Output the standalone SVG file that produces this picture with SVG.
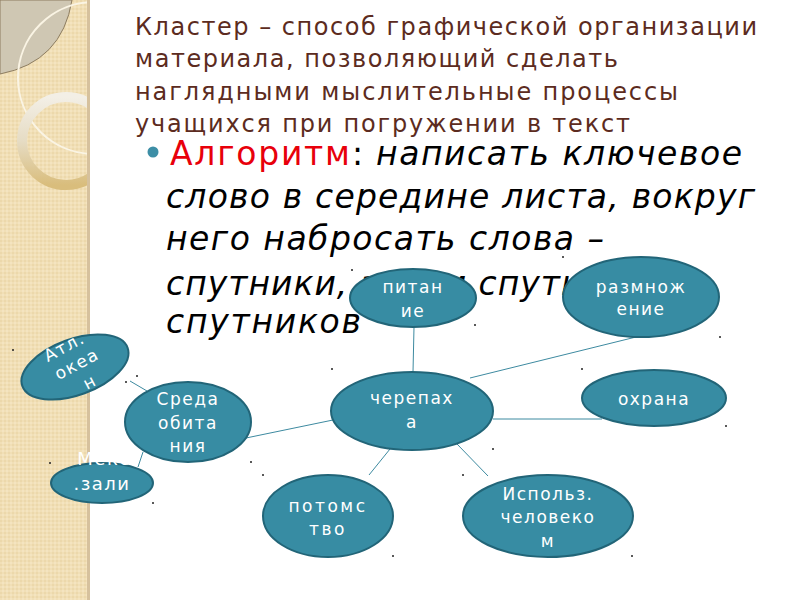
<svg xmlns="http://www.w3.org/2000/svg" width="800" height="600" viewBox="0 0 800 600">
<defs>
<style>
.title{font-family:"DejaVu Sans",sans-serif;font-size:24px;fill:#5c2b20}
.body{font-family:"DejaVu Sans",sans-serif;font-size:33px;fill:#000}
.it{font-style:italic}
.node ellipse{fill:#378ca3;stroke:#226578;stroke-width:2}
.node text{font-family:"DejaVu Sans",sans-serif;font-size:17px;fill:#fff;text-anchor:middle;letter-spacing:1.5px}
.conn line{stroke:#3d8aa0;stroke-width:1}
.dot{fill:#222}
</style>
<pattern id="tex" width="4" height="4" patternUnits="userSpaceOnUse">
<rect width="4" height="4" fill="#f1dfb6"/>
<rect width="2" height="2" fill="#ecd8ab"/>
<rect x="2" y="2" width="2" height="2" fill="#f4e4c0"/>
</pattern>
<linearGradient id="ring" x1="0" y1="0" x2="0" y2="1">
<stop offset="0" stop-color="#f3efe6"/>
<stop offset="0.5" stop-color="#e6dcc4"/>
<stop offset="1" stop-color="#d9bd7c"/>
</linearGradient>
<clipPath id="strip"><rect x="0" y="0" width="88" height="600"/></clipPath>
</defs>
<rect width="800" height="600" fill="#fff"/>
<g id="strip-deco">
<rect x="0" y="0" width="88" height="600" fill="url(#tex)"/>
<g clip-path="url(#strip)">
<path d="M0,0 L72,0 Q62,62 0,74 Z" fill="#cfc7b3" stroke="#8e7d60" stroke-width="1"/>
<circle cx="94" cy="78" r="76" fill="none" stroke="#faf4e4" stroke-width="2"/>
<circle cx="66" cy="141" r="44" fill="none" stroke="url(#ring)" stroke-width="10"/>
</g>
<rect x="87" y="0" width="3" height="600" fill="#d6c19d"/>
</g>
<g id="title">
<text class="title" x="135" y="35" textLength="622" lengthAdjust="spacing">Кластер – способ графической организации</text>
<text class="title" x="135" y="67" textLength="483" lengthAdjust="spacing">материала, позволяющий сделать</text>
<text class="title" x="135" y="100" textLength="543" lengthAdjust="spacing">наглядными  мыслительные процессы</text>
<text class="title" x="135" y="132" textLength="495" lengthAdjust="spacing">учащихся  при погружении в текст</text>
</g>
<g id="body">
<circle cx="153" cy="152" r="5.5" fill="#3d8ea6"/>
<text class="body" x="170" y="165" style="fill:#e8000b" textLength="180" lengthAdjust="spacing">Алгоритм</text>
<text class="body" x="352" y="165">:</text>
<text class="body it" x="376" y="165" textLength="366" lengthAdjust="spacing">написать ключевое</text>
<text class="body it" x="166" y="208" textLength="589" lengthAdjust="spacing">слово в середине листа, вокруг</text>
<text class="body it" x="166" y="250" textLength="438" lengthAdjust="spacing">него набросать слова –</text>
<text class="body it" x="166" y="295" letter-spacing="1">спутники, затем спутники</text>
<text class="body it" x="166" y="333" textLength="195" lengthAdjust="spacing">спутников</text>
</g>
<g id="connectors" class="conn">
<line x1="414" y1="327" x2="413" y2="372"/>
<line x1="470" y1="378" x2="636" y2="337"/>
<line x1="493" y1="419" x2="602" y2="419"/>
<line x1="390" y1="449" x2="369" y2="475"/>
<line x1="457" y1="444" x2="488" y2="476"/>
<line x1="246" y1="438" x2="333" y2="420"/>
<line x1="130" y1="381" x2="147" y2="391"/>
<line x1="143" y1="452" x2="138" y2="467"/>
</g>
<g id="node-atl" class="node" transform="translate(75,367) rotate(-20)">
<ellipse cx="0" cy="0" rx="56" ry="28"/>
<text x="0" y="-17" transform="rotate(-8)">Атл.</text>
<text x="3" y="4" transform="rotate(-8)">океа</text>
<text x="6" y="26" transform="rotate(-8)">н</text>
</g>
<g id="node-sreda" class="node">
<ellipse cx="188" cy="422" rx="63" ry="40"/>
<text x="188" y="405">Среда</text>
<text x="188" y="429">обита</text>
<text x="188" y="452">ния</text>
</g>
<g id="node-meks" class="node">
<ellipse cx="102" cy="483" rx="51" ry="20"/>
<text x="104" y="465" style="font-size:18px">Мекс</text>
<text x="102" y="490" style="font-size:18px">.зали</text>
</g>
<g id="node-pitanie" class="node">
<ellipse cx="413" cy="298" rx="63" ry="29"/>
<text x="413" y="293">питан</text>
<text x="413" y="317">ие</text>
</g>
<g id="node-razm" class="node">
<ellipse cx="641" cy="297" rx="78" ry="40"/>
<text x="641" y="293">размнож</text>
<text x="641" y="315">ение</text>
</g>
<g id="node-ohrana" class="node">
<ellipse cx="654" cy="398" rx="72" ry="28"/>
<text x="654" y="405">охрана</text>
</g>
<g id="node-cherepaha" class="node">
<ellipse cx="412" cy="411" rx="81" ry="39"/>
<text x="412" y="404">черепах</text>
<text x="412" y="428">а</text>
</g>
<g id="node-potomstvo" class="node">
<ellipse cx="328" cy="516" rx="65" ry="41"/>
<text x="328" y="512" style="letter-spacing:2.5px">потомс</text>
<text x="328" y="535" style="letter-spacing:2.5px">тво</text>
</g>
<g id="node-ispolz" class="node">
<ellipse cx="548" cy="516" rx="85" ry="41"/>
<text x="548" y="500">Использ.</text>
<text x="548" y="523">человеко</text>
<text x="548" y="547">м</text>
</g>
<g id="dots" class="dot">
<circle cx="13" cy="350" r="1"/>
<circle cx="50" cy="463" r="1"/>
<circle cx="137" cy="376" r="1"/>
<circle cx="126" cy="382" r="1"/>
<circle cx="153" cy="503" r="1"/>
<circle cx="251" cy="462" r="1"/>
<circle cx="263" cy="475" r="1"/>
<circle cx="352" cy="270" r="1"/>
<circle cx="332" cy="369" r="1"/>
<circle cx="475" cy="325" r="1"/>
<circle cx="493" cy="449" r="1"/>
<circle cx="463" cy="475" r="1"/>
<circle cx="393" cy="556" r="1"/>
<circle cx="632" cy="556" r="1"/>
<circle cx="563" cy="257" r="1"/>
<circle cx="720" cy="337" r="1"/>
<circle cx="582" cy="369" r="1"/>
<circle cx="726" cy="426" r="1"/>
</g>
</svg>
